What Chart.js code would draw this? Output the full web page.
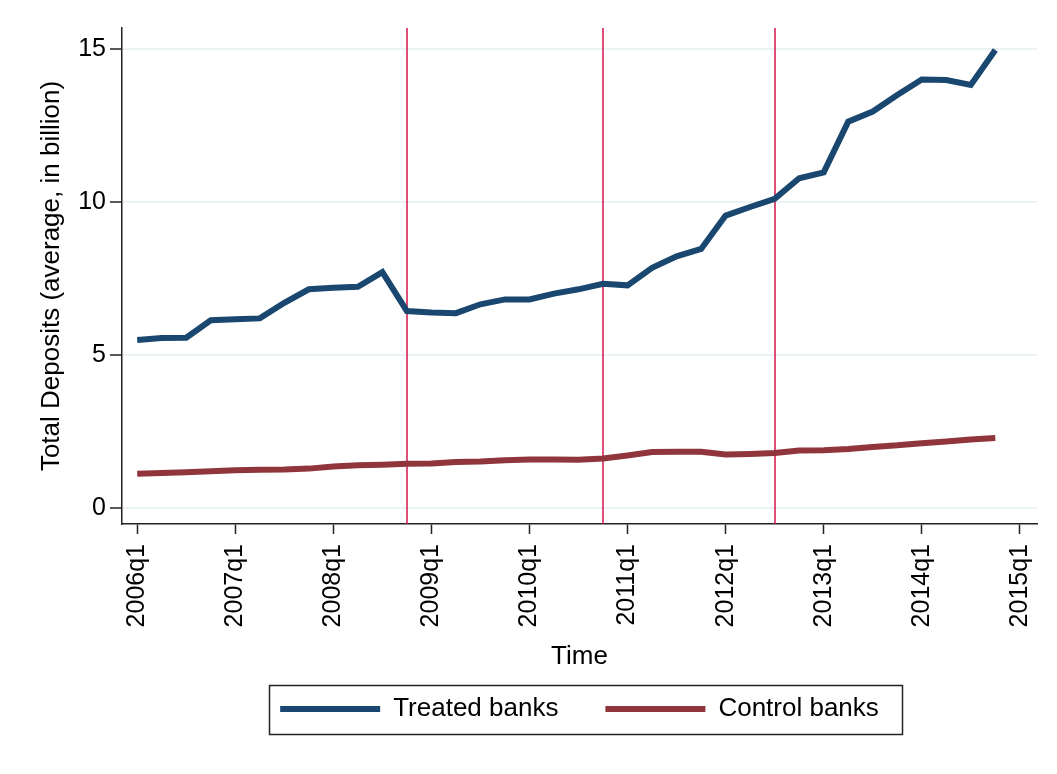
<!DOCTYPE html>
<html>
<head>
<meta charset="utf-8">
<script src="https://cdn.jsdelivr.net/npm/chart.js@4.4.1/dist/chart.umd.min.js"></script>
<style>
  html, body { margin: 0; padding: 0; background: #fff; }
  canvas { display: block; }
</style>
</head>
<body>
<canvas id="chart" width="1057" height="774"></canvas>
<script>
// quarters with data, 2006q1 .. 2014q4
const quarters = [
  '2006q1','2006q2','2006q3','2006q4','2007q1','2007q2','2007q3','2007q4',
  '2008q1','2008q2','2008q3','2008q4','2009q1','2009q2','2009q3','2009q4',
  '2010q1','2010q2','2010q3','2010q4','2011q1','2011q2','2011q3','2011q4',
  '2012q1','2012q2','2012q3','2012q4','2013q1','2013q2','2013q3','2013q4',
  '2014q1','2014q2','2014q3','2014q4'
]
const treatedBanks = [
  5.48, 5.55, 5.56, 6.13, 6.16, 6.19, 6.70, 7.14, 7.19, 7.22, 7.70, 6.43,
  6.38, 6.36, 6.65, 6.81, 6.81, 7.00, 7.14, 7.32, 7.27, 7.84, 8.22, 8.46,
  9.55, 9.83, 10.10, 10.77, 10.96, 12.62, 12.95, 13.49, 14.00, 13.98, 13.82, 14.96
]
const controlBanks = [
  1.11, 1.14, 1.16, 1.19, 1.23, 1.24, 1.25, 1.28, 1.35, 1.39, 1.41, 1.44,
  1.45, 1.50, 1.51, 1.55, 1.58, 1.58, 1.57, 1.61, 1.71, 1.82, 1.83, 1.83,
  1.74, 1.76, 1.79, 1.87, 1.88, 1.92, 1.99, 2.04, 2.11, 2.17, 2.23, 2.28
]
const xTickLabels = ['2006q1','2007q1','2008q1','2009q1','2010q1','2011q1','2012q1','2013q1','2014q1','2015q1']
const yTickValues = [0, 5, 10, 15]
const eventQuarters = ['2008q4', '2010q4', '2012q3']

const FONT = "'Liberation Sans', Arial, sans-serif"

// quarter label -> index on the x axis (2006q1 = 0)
function quarterIndex(label) {
  const year = parseInt(label.slice(0, 4), 10)
  const q = parseInt(label.slice(5), 10)
  return (year - 2006) * 4 + (q - 1)
}

const toPoints = (arr) => arr.map((v, i) => ({ x: quarterIndex(quarters[i]), y: v }))

// vertical event lines behind the series
const eventLines = {
  id: 'eventLines',
  beforeDatasetsDraw(chart) {
    const { ctx, chartArea, scales } = chart
    ctx.save()
    ctx.strokeStyle = '#d6144a'
    ctx.lineWidth = 1.5
    eventQuarters.forEach(q => {
      const x = Math.round(scales.x.getPixelForValue(quarterIndex(q)))
      ctx.beginPath()
      ctx.moveTo(x, chartArea.top)
      ctx.lineTo(x, chartArea.bottom)
      ctx.stroke()
    })
    ctx.restore()
  }
}

// Stata-style frame around the legend
const legendFrame = {
  id: 'legendFrame',
  afterDraw(chart) {
    const boxes = chart.legend && chart.legend.legendHitBoxes
    if (!boxes || !boxes.length) return
    const left = Math.min(...boxes.map(b => b.left))
    const right = Math.max(...boxes.map(b => b.left + b.width))
    const mid = boxes[0].top + boxes[0].height / 2
    const ctx = chart.ctx
    ctx.save()
    ctx.strokeStyle = '#222'
    ctx.lineWidth = 1.5
    ctx.strokeRect(Math.round(left - 11) + 0.5, Math.round(mid - 24.5) + 0.5, Math.round(right - left + 34), 49)
    ctx.restore()
  }
}

new Chart(document.getElementById('chart'), {
  type: 'line',
  data: {
    datasets: [
      {
        label: 'Treated banks',
        data: toPoints(treatedBanks),
        borderColor: '#1a476f',
        backgroundColor: '#1a476f',
        borderWidth: 6,
        pointRadius: 0,
        tension: 0
      },
      {
        label: 'Control banks',
        data: toPoints(controlBanks),
        borderColor: '#90353b',
        backgroundColor: '#90353b',
        borderWidth: 6,
        pointRadius: 0,
        tension: 0
      }
    ]
  },
  options: {
    responsive: false,
    animation: false,
    layout: { padding: { top: 28, left: 0, right: 20, bottom: 42 } },
    plugins: {
      tooltip: { enabled: false },
      legend: {
        position: 'bottom',
        fullSize: false,
        labels: {
          boxWidth: 100,
          boxHeight: 6,
          padding: 47,
          color: '#000',
          font: { family: FONT, size: 26 },
          generateLabels(chart) {
            return chart.data.datasets.map((ds, i) => ({
              text: ds.label,
              fillStyle: ds.borderColor,
              strokeStyle: ds.borderColor,
              lineWidth: 0,
              hidden: false,
              datasetIndex: i
            }))
          }
        }
      }
    },
    scales: {
      x: {
        type: 'linear',
        min: -0.62,
        max: 36.7,
        afterBuildTicks(scale) {
          scale.ticks = xTickLabels.map(l => ({ value: quarterIndex(l) }))
        },
        afterFit(scale) {
          scale.height = 125
          scale.paddingLeft = 0
          scale.paddingRight = 0
        },
        ticks: {
          autoSkip: false,
          maxRotation: 90,
          minRotation: 90,
          padding: 10,
          color: '#000',
          font: { family: FONT, size: 25 },
          callback: (v) => xTickLabels[v / 4]
        },
        grid: {
          display: true,
          drawOnChartArea: false,
          drawTicks: true,
          tickLength: 10,
          tickColor: '#222',
          tickWidth: 1.5
        },
        border: { display: true, color: '#222', width: 1.5 },
        title: {
          display: true,
          text: 'Time',
          color: '#000',
          font: { family: FONT, size: 26 },
          padding: { top: 0, bottom: -23.6 }
        }
      },
      y: {
        type: 'linear',
        min: -0.53,
        max: 15.68,
        afterBuildTicks(scale) {
          scale.ticks = yTickValues.map(v => ({ value: v }))
        },
        afterFit(scale) {
          scale.width = 122
          scale.paddingTop = 0
          scale.paddingBottom = 0
        },
        ticks: {
          padding: 4,
          color: '#000',
          font: { family: FONT, size: 25 }
        },
        grid: {
          color: '#eaf2f3',
          lineWidth: 2,
          drawTicks: true,
          tickLength: 12,
          tickColor: '#222',
          tickWidth: 1.5
        },
        border: { display: true, color: '#222', width: 1.5 },
        title: {
          display: true,
          text: 'Total Deposits (average, in billion)',
          color: '#000',
          font: { family: FONT, size: 26 },
          padding: { top: 36, bottom: 0 }
        }
      }
    }
  },
  plugins: [eventLines, legendFrame]
})
</script>
</body>
</html>
